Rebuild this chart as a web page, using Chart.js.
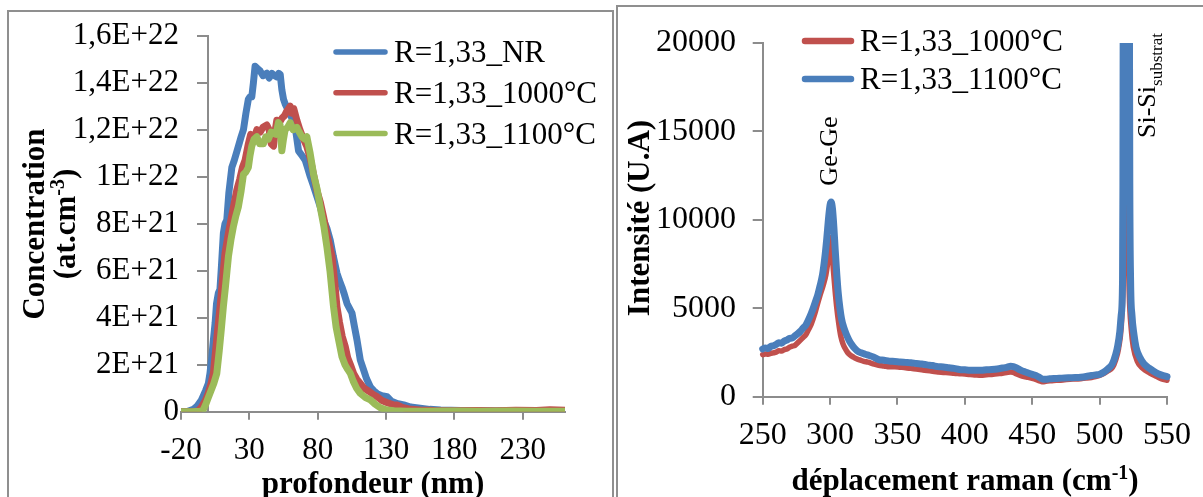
<!DOCTYPE html>
<html>
<head>
<meta charset="utf-8">
<script src="https://cdn.jsdelivr.net/npm/chart.js@4.4.1/dist/chart.umd.min.js"></script>
<style>
  html, body { margin: 0; padding: 0; background: #fff; overflow: hidden; }
  body { width: 1203px; height: 497px; position: relative; }
  canvas { position: absolute; }
  .panel { position: absolute; border: 2px solid #8f8f8f; border-bottom: none; pointer-events: none; }
</style>
</head>
<body>
<canvas id="depthChart" width="603" height="485" style="left:9px;top:12px;width:603px;height:485px"></canvas>
<canvas id="ramanChart" width="585" height="490" style="left:618px;top:7px;width:585px;height:490px"></canvas>
<div class="panel" style="left:7px;top:10px;width:603px;height:600px"></div>
<div class="panel" style="left:616px;top:5px;width:700px;height:600px"></div>
<script>
// --- depth profiles: [profondeur nm, concentration at.cm-3]
const profileNR = [
  [-20, 0], [-15, 0.02e21], [-11, 0.1e21], [-8, 0.25e21], [-5, 0.5e21], [-2, 0.9e21], [0, 1.2e21],
  [1.2, 1.63e21], [2.5, 2.3e21], [3.7, 3.05e21], [5, 3.8e21], [6, 4.6e21], [7.3, 5.04e21], [8.5, 5.2e21],
  [9.5, 6.1e21], [11, 7.6e21], [12.2, 8.0e21], [13.5, 8.16e21], [15, 9.3e21], [17.2, 10.4e21], [19, 10.7e21],
  [20.5, 11.0e21], [22, 11.3e21], [24, 11.7e21], [25.7, 12.0e21], [27.5, 12.7e21], [29.3, 13.3e21],
  [30.5, 13.4e21], [31.8, 13.4e21], [33, 14.0e21], [34.2, 14.7e21], [36, 14.6e21], [37.9, 14.5e21],
  [40, 14.3e21], [42.8, 14.4e21], [44.5, 14.2e21], [46.5, 14.4e21], [48.5, 14.3e21], [50.1, 14.25e21],
  [51.5, 14.4e21], [52.6, 14.35e21], [53.8, 13.7e21], [55, 13.3e21], [56.2, 13.1e21], [58.7, 12.8e21],
  [61.1, 12.5e21], [63.6, 12.1e21], [66, 11.1e21], [68.5, 10.9e21], [70.9, 10.7e21], [72.5, 10.4e21],
  [74.6, 10.0e21], [77, 9.6e21], [79.5, 9.15e21], [82, 8.7e21], [84.3, 8.16e21], [86.8, 7.8e21],
  [89.2, 7.3e21], [91.5, 6.6e21], [94.1, 5.9e21], [95.8, 5.6e21], [97.8, 5.3e21], [99.5, 5.0e21],
  [101.5, 4.6e21], [103.3, 4.4e21], [105.1, 4.2e21], [107, 3.6e21], [108.8, 3.05e21], [111.2, 2.2e21],
  [113.5, 1.8e21], [115.8, 1.4e21], [118.5, 1.06e21], [121, 0.9e21], [124, 0.75e21], [127, 0.68e21],
  [130.8, 0.64e21], [134, 0.45e21], [138, 0.35e21], [143, 0.29e21], [148, 0.2e21], [155, 0.15e21],
  [162, 0.1e21], [170, 0.07e21], [185, 0.05e21], [200, 0.04e21], [215, 0.03e21], [230, 0.04e21],
  [245, 0.03e21], [261, 0.03e21]
];
const profile1000 = [
  [-20, 0], [-12, 0], [-7.5, 0.03e21], [-5, 0.2e21], [-2, 0.5e21], [0, 0.8e21], [2, 1.2e21], [3.7, 1.63e21],
  [6, 3.0e21], [8.6, 4.47e21], [10.5, 5.7e21], [12.2, 6.74e21], [14.7, 7.6e21], [17, 8.3e21], [19, 8.9e21],
  [20.8, 9.43e21], [23, 9.9e21], [25, 10.4e21], [26.9, 10.7e21], [29.3, 11.4e21], [31, 11.8e21],
  [33, 11.5e21], [35.5, 12.0e21], [38, 11.9e21], [40, 12.1e21], [42.8, 12.2e21], [44.5, 12.0e21],
  [46, 11.4e21], [47.7, 11.3e21], [49, 12.0e21], [50.1, 12.4e21], [52, 12.3e21], [54, 12.5e21],
  [55.8, 12.6e21], [57.5, 12.8e21], [59.9, 13.0e21], [61, 12.7e21], [62.5, 12.9e21], [64.8, 12.4e21],
  [67, 12.0e21], [69.6, 11.6e21], [72, 11.3e21], [74.5, 10.8e21], [77, 10.1e21], [79.5, 9.4e21],
  [82, 8.9e21], [84.3, 8.3e21], [87, 7.5e21], [90.5, 6.6e21], [92.5, 5.5e21], [94.1, 4.47e21],
  [96, 3.8e21], [98, 3.2e21], [100.2, 2.77e21], [102, 2.3e21], [104, 2.0e21], [106.3, 1.63e21],
  [108.5, 1.4e21], [111.2, 1.2e21], [114, 1.0e21], [118, 0.85e21], [121, 0.72e21], [123.5, 0.64e21],
  [127, 0.48e21], [131, 0.38e21], [135, 0.3e21], [138, 0.29e21], [142, 0.18e21], [148, 0.1e21],
  [155, 0.07e21], [165, 0.05e21], [180, 0.04e21], [195, 0.05e21], [210, 0.04e21], [225, 0.06e21],
  [240, 0.05e21], [250, 0.08e21], [261, 0.06e21]
];
const profile1100 = [
  [-20, 0], [-12, 0], [-6, 0.02e21], [-4, 0.05e21], [-2, 0.3e21], [0, 0.6e21], [2, 0.9e21], [4, 1.2e21],
  [6.2, 1.63e21], [8, 2.6e21], [9.5, 3.5e21], [11, 4.47e21], [12.5, 5.3e21], [14.7, 6.6e21], [16.5, 7.3e21],
  [18.3, 7.87e21], [20, 8.3e21], [22, 8.72e21], [24, 9.4e21], [25.7, 10.1e21], [27.5, 10.2e21],
  [29.3, 10.4e21], [30.5, 10.9e21], [31.8, 11.3e21], [33.5, 11.6e21], [35.5, 11.7e21], [37.5, 11.4e21],
  [40.3, 11.4e21], [42, 11.7e21], [44, 11.6e21], [46, 11.9e21], [47.7, 11.85e21], [49.5, 11.8e21],
  [51.3, 12.3e21], [52.5, 12.2e21], [53.8, 11.1e21], [55, 11.6e21], [56.2, 12.0e21], [58, 12.1e21],
  [59.9, 12.3e21], [62, 12.0e21], [64.8, 12.1e21], [66.5, 11.9e21], [68.5, 11.7e21], [70.5, 11.6e21],
  [72.1, 11.7e21], [74.5, 11.0e21], [77, 10.1e21], [79.5, 9.5e21], [81.9, 8.7e21], [84.5, 7.9e21],
  [86.8, 7.0e21], [89, 6.0e21], [91.6, 4.47e21], [93.5, 3.6e21], [95.5, 3.0e21], [97.8, 2.34e21],
  [100, 2.0e21], [102, 1.8e21], [103.9, 1.63e21], [106, 1.3e21], [108.5, 1.0e21], [111.2, 0.78e21],
  [115, 0.6e21], [118.6, 0.5e21], [122, 0.32e21], [126, 0.16e21], [130.8, 0.07e21], [136, 0.04e21],
  [145, 0.02e21], [160, 0.02e21], [180, 0.03e21], [200, 0.02e21], [220, 0.03e21], [240, 0.02e21],
  [261, 0.02e21]
];
const depthTicks = [-20, 30, 80, 130, 180, 230];
const concTicks = [0, 2e21, 4e21, 6e21, 8e21, 1e22, 1.2e22, 1.4e22, 1.6e22];
const concTickLabels = ['0', '2E+21', '4E+21', '6E+21', '8E+21', '1E+22', '1,2E+22', '1,4E+22', '1,6E+22'];

// --- raman spectra: [déplacement cm-1, intensité U.A]
const raman1000 = [
  [250, 2380], [252, 2420], [254, 2400], [256, 2450], [258, 2480], [260, 2520], [262, 2600], [264, 2580],
  [266, 2660], [268, 2700], [270, 2800], [272, 2860], [274, 2900], [276, 3050], [278, 3200], [280, 3350],
  [282, 3500], [284, 3800], [286, 4100], [288.7, 4700], [290.5, 5200], [292.4, 5700], [294.9, 6300],
  [296.9, 6900], [298.5, 7700], [299.8, 8500], [300.6, 9000], [301.4, 8300], [302.3, 7300], [303.6, 6100],
  [305, 5000], [306.5, 4100], [308, 3400], [309.5, 3000], [311, 2750], [313, 2500], [315, 2350],
  [317.5, 2230], [319.6, 2140], [322, 2080], [325, 2000], [328, 1950], [332, 1860], [336, 1780],
  [340, 1740], [344, 1690], [348, 1700], [352, 1670], [356, 1640], [360, 1600], [364, 1560], [368, 1520],
  [372, 1480], [376, 1440], [380, 1400], [384, 1370], [388, 1360], [392, 1320], [396, 1300], [400, 1280],
  [404, 1260], [408, 1230], [412, 1210], [416, 1240], [420, 1260], [424, 1300], [428, 1330], [431, 1370],
  [434, 1400], [436, 1380], [438, 1300], [441, 1210], [444, 1140], [447, 1090], [450, 1030], [453, 960],
  [456, 880], [458, 840], [460, 870], [463, 900], [466, 920], [470, 930], [474, 960], [478, 990],
  [482, 1000], [486, 1020], [490, 1050], [494, 1090], [497, 1140], [500, 1200], [503, 1300], [506, 1450],
  [509.5, 1650], [512, 2100], [514, 2700], [516, 3900], [517.2, 5800], [518, 9000], [519, 20000],
  [519.6, 50000], [520.2, 20000], [521.2, 9000], [522, 5800], [523.5, 3800], [525, 2800], [528, 2000],
  [532, 1600], [537, 1350], [542, 1150], [546, 1000], [550, 930]
];
const raman1100 = [
  [250, 2700], [252, 2760], [254, 2720], [256, 2850], [258, 2880], [260, 2950], [262, 3050], [264, 3020],
  [266, 3150], [268, 3200], [270, 3300], [272, 3320], [274, 3450], [276, 3560], [278, 3700], [280, 3880],
  [282, 4050], [284, 4350], [286, 4700], [287.5, 5000], [289.5, 5450], [291, 5800], [292.5, 6250],
  [294.4, 6900], [296, 7800], [297.5, 8900], [299, 10200], [300, 10850], [300.8, 11000], [301.8, 10600],
  [302.8, 9600], [303.8, 8300], [305, 6900], [306, 5900], [307.3, 5000], [308.5, 4400], [310, 3950],
  [312.2, 3500], [314, 3200], [316, 2950], [318, 2750], [320, 2600], [323, 2480], [326, 2400],
  [329, 2330], [332, 2250], [336, 2100], [340, 2060], [344, 2010], [348, 1990], [352, 1960], [356, 1940],
  [360, 1920], [364, 1880], [368, 1850], [372, 1800], [376, 1760], [380, 1700], [384, 1680], [388, 1640],
  [392, 1600], [396, 1540], [400, 1520], [404, 1500], [408, 1490], [412, 1490], [416, 1520], [420, 1540],
  [424, 1570], [428, 1620], [431, 1660], [434, 1720], [436, 1700], [438, 1640], [441, 1520], [444, 1420],
  [447, 1340], [450, 1260], [453, 1190], [456, 1060], [458, 980], [460, 990], [463, 1010], [466, 1030],
  [470, 1040], [474, 1060], [478, 1070], [482, 1080], [486, 1100], [490, 1140], [494, 1200], [497, 1230],
  [500, 1260], [503, 1380], [506, 1560], [509.5, 1860], [512, 2400], [513.5, 2900], [515, 3700],
  [516, 4600], [517, 6500], [517.3, 12000], [517.5, 22000], [519.8, 60000], [522.1, 22000], [522.4, 12000],
  [523, 6500], [524, 4600], [525.5, 3500], [527, 2800], [530, 2200], [533, 1850], [537, 1600],
  [542, 1350], [546, 1220], [550, 1130]
];
const ramanTicks = [250, 300, 350, 400, 450, 500, 550];
const intensityTicks = [0, 5000, 10000, 15000, 20000];

const SERIF = '"Liberation Serif", "Times New Roman", serif';
const axisGrey = '#8c8c8c';
const blue = '#4a7ebb', red = '#c0504d', green = '#9bbb59';

Chart.defaults.font.family = SERIF;
Chart.defaults.color = '#000';

function toPoints(arr) {
  return arr.map(p => ({ x: p[0], y: p[1] }));
}

// draws text made of parts (for superscript / subscript)
function drawRich(ctx, item) {
  ctx.save();
  ctx.translate(item.x, item.y);
  if (item.rotate) ctx.rotate(-Math.PI / 2);
  ctx.textBaseline = 'alphabetic';
  ctx.textAlign = 'left';
  ctx.fillStyle = '#000';
  let total = 0;
  item.parts.forEach(p => { ctx.font = p.font; total += ctx.measureText(p.text).width; });
  let cx = item.align === 'center' ? -total / 2 : 0;
  item.parts.forEach(p => {
    ctx.font = p.font;
    ctx.fillText(p.text, cx, p.dy || 0);
    cx += ctx.measureText(p.text).width;
  });
  ctx.restore();
}

const textItems = {
  id: 'textItems',
  afterDraw(chart, args, opts) {
    opts.items.forEach(it => drawRich(chart.ctx, it));
  }
};

const lineLegend = {
  id: 'lineLegend',
  afterDraw(chart, args, o) {
    const ctx = chart.ctx;
    ctx.save();
    chart.data.datasets.forEach((ds, i) => {
      const y = o.y + i * o.step;
      ctx.strokeStyle = ds.borderColor;
      ctx.lineWidth = o.lineWidth;
      ctx.lineCap = 'round';
      ctx.beginPath();
      ctx.moveTo(o.x, y);
      ctx.lineTo(o.x + o.length, y);
      ctx.stroke();
      ctx.fillStyle = '#000';
      ctx.font = o.font;
      ctx.textBaseline = 'alphabetic';
      ctx.fillText(ds.label, o.x + o.length + o.gap, y + o.textDy);
    });
    ctx.restore();
  }
};

const bold31 = 'bold 31px ' + SERIF;
const sup20 = 'bold 20px ' + SERIF;
const lineStyle = { pointRadius: 0, borderJoinStyle: 'round', borderCapStyle: 'round' };

// ---------- left chart: concentration vs profondeur
new Chart(document.getElementById('depthChart'), {
  type: 'line',
  data: {
    datasets: [
      { label: 'R=1,33_NR', data: toPoints(profileNR), borderColor: blue, borderWidth: 7, order: 3, ...lineStyle },
      { label: 'R=1,33_1000°C', data: toPoints(profile1000), borderColor: red, borderWidth: 7, order: 2, ...lineStyle },
      { label: 'R=1,33_1100°C', data: toPoints(profile1100), borderColor: green, borderWidth: 7, order: 1, ...lineStyle }
    ]
  },
  options: {
    responsive: false,
    animation: false,
    devicePixelRatio: 1,
    layout: { padding: { left: 0, top: 23.7, right: 47, bottom: 0 } },
    plugins: {
      legend: { display: false },
      tooltip: { enabled: false },
      lineLegend: { x: 327, length: 49, y: 40, step: 40.8, lineWidth: 5.5, gap: 9, textDy: 10, font: '31px ' + SERIF },
      textItems: {
        items: [
          { x: 35, y: 212, rotate: true, align: 'center', parts: [{ text: 'Concentration', font: bold31 }] },
          { x: 66, y: 212, rotate: true, align: 'center', parts: [
            { text: '(at.cm', font: bold31 }, { text: '-3', font: sup20, dy: -11 }, { text: ')', font: bold31 }] },
          { x: 364, y: 481, align: 'center', parts: [{ text: 'profondeur (nm)', font: bold31 }] }
        ]
      }
    },
    scales: {
      x: {
        type: 'linear', min: -20, max: 261,
        afterBuildTicks: s => { s.ticks = depthTicks.map(v => ({ value: v })); },
        afterFit: s => { s.height = 85.3; },
        grid: { drawOnChartArea: false, tickLength: 8, color: axisGrey, lineWidth: 2 },
        border: { color: axisGrey, width: 2 },
        ticks: { font: { size: 31 }, padding: 13, autoSkip: false, maxRotation: 0, callback: v => String(v) }
      },
      y: {
        type: 'linear', min: 0, max: 1.6e22,
        afterBuildTicks: s => { s.ticks = concTicks.map(v => ({ value: v })); },
        afterFit: s => { s.width = 172; },
        grid: { display: false, drawTicks: false },
        border: { display: false },
        ticks: { font: { size: 31 }, padding: 2, callback: (v, i) => concTickLabels[i] }
      },
      y0: {
        axis: 'y', type: 'linear', position: { x: 0 }, min: 0, max: 1.6e22,
        afterBuildTicks: s => { s.ticks = concTicks.map(v => ({ value: v })); },
        afterFit: s => { s.width = 0; },
        grid: { drawOnChartArea: false, tickLength: 10, color: axisGrey, lineWidth: 2 },
        border: { color: axisGrey, width: 2 },
        ticks: { display: false }
      }
    }
  },
  plugins: [lineLegend, textItems]
});

// ---------- right chart: intensité vs déplacement raman
const ramanStyle = { ...lineStyle, cubicInterpolationMode: 'monotone', clip: { left: 5, top: 0, right: 5, bottom: 5 } };
new Chart(document.getElementById('ramanChart'), {
  type: 'line',
  data: {
    datasets: [
      { label: 'R=1,33_1000°C', data: toPoints(raman1000), borderColor: red, borderWidth: 5.5, order: 1, ...ramanStyle },
      { label: 'R=1,33_1100°C', data: toPoints(raman1100), borderColor: blue, borderWidth: 7, order: 0, ...ramanStyle }
    ]
  },
  options: {
    responsive: false,
    animation: false,
    devicePixelRatio: 1,
    layout: { padding: { left: 0, top: 31.3, right: 35.5, bottom: 0 } },
    plugins: {
      legend: { display: false },
      tooltip: { enabled: false },
      lineLegend: { x: 187, length: 46, y: 34, step: 38, lineWidth: 6.5, gap: 9, textDy: 10, font: '31px ' + SERIF },
      textItems: {
        items: [
          { x: 31, y: 211, rotate: true, align: 'center', parts: [{ text: 'Intensité (U.A)', font: bold31 }] },
          { x: 347, y: 483, align: 'center', parts: [
            { text: 'déplacement raman (cm', font: bold31 }, { text: '-1', font: sup20, dy: -11 }, { text: ')', font: bold31 }] },
          { x: 219, y: 144, rotate: true, align: 'center', parts: [{ text: 'Ge-Ge', font: '26px ' + SERIF }] },
          { x: 537, y: 131, rotate: true, align: 'left', parts: [
            { text: 'Si-Si', font: '26px ' + SERIF }, { text: 'substrat', font: '17px ' + SERIF, dy: 7 }] }
        ]
      }
    },
    scales: {
      x: {
        type: 'linear', min: 250, max: 550,
        afterBuildTicks: s => { s.ticks = ramanTicks.map(v => ({ value: v })); },
        afterFit: s => { s.height = 100.3; },
        grid: { drawOnChartArea: false, tickLength: 8, color: axisGrey, lineWidth: 2 },
        border: { color: axisGrey, width: 2 },
        ticks: { font: { size: 32 }, padding: 12, autoSkip: false, maxRotation: 0, callback: v => String(v) }
      },
      y: {
        type: 'linear', min: 0, max: 20000,
        afterBuildTicks: s => { s.ticks = intensityTicks.map(v => ({ value: v })); },
        afterFit: s => { s.width = 144.7; },
        grid: { drawOnChartArea: false, tickLength: 10, color: axisGrey, lineWidth: 2 },
        border: { color: axisGrey, width: 2 },
        ticks: { font: { size: 32 }, padding: 16.7, callback: v => String(v) }
      }
    }
  },
  plugins: [lineLegend, textItems]
});
</script>
</body>
</html>
